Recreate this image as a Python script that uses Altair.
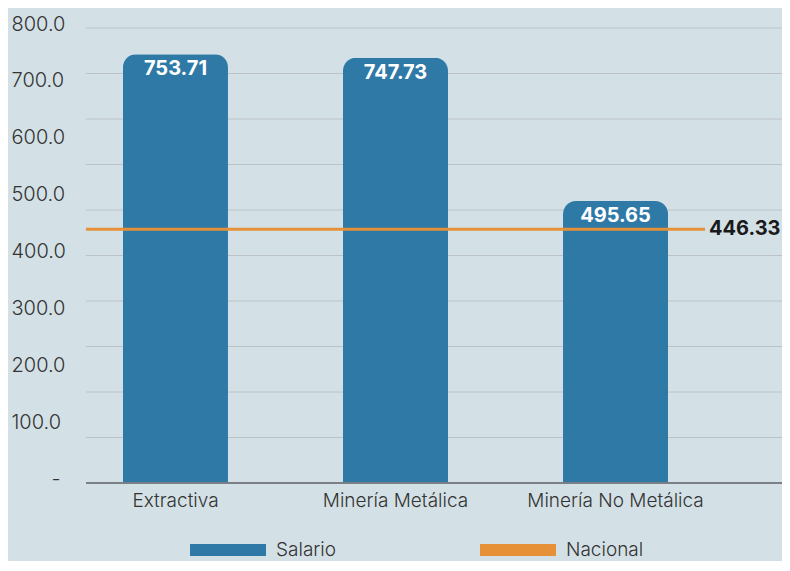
import altair as alt
import pandas as pd

categorias = ["Extractiva", "Minería Metálica", "Minería No Metálica"]
salarios = [753.71, 747.73, 495.65]
nacional_valor = 446.33
y_ticks = [0, 100, 200, 300, 400, 500, 600, 700, 800]
grid_vals = [80, 160, 240, 320, 400, 480, 560, 640, 720, 800]

BG = "#d3e1e6"
BLUE = "#2e79a6"
ORANGE = "#e69138"
FONT = "Inter"

bars_df = pd.DataFrame({"categoria": categorias, "valor": salarios, "serie": ["Salario"] * 3})
nac_df = pd.DataFrame({"serie": ["Nacional"], "valor": [nacional_valor]})
grid_df = pd.DataFrame({"g": grid_vals})

W, H = 696, 455

yscale = alt.Scale(domain=[0, 800], nice=False)
xscale = alt.Scale(domain=categorias, range=[0, 619], paddingInner=0.5227, paddingOuter=0.168)
color_scale = alt.Scale(domain=["Salario", "Nacional"], range=[BLUE, ORANGE])

yaxis = alt.Axis(
    values=y_ticks, grid=False, ticks=False, domain=False,
    labelExpr="datum.value == 0 ? '-' : format(datum.value, '.1f')",
    labelAlign="left",
    labelPadding={"condition": {"test": "datum.value == 0", "value": 35}, "value": 75},
    labelOffset=-4,
    labelFontSize=20, labelFontWeight=300, labelColor="#333333", labelFont=FONT, title=None,
)

grid = alt.Chart(grid_df).mark_rule(color="#bcc2c8", strokeWidth=1).encode(
    y=alt.Y("g:Q", scale=yscale, axis=yaxis)
)

bars = alt.Chart(bars_df).mark_bar(
    cornerRadiusTopLeft=13, cornerRadiusTopRight=13
).encode(
    x=alt.X("categoria:N", scale=xscale, sort=categorias,
            axis=alt.Axis(title=None, domain=False, ticks=False, labelAngle=0,
                          labelFontSize=19, labelFontWeight=300, labelColor="#333333",
                          labelFont=FONT, labelPadding=8)),
    y=alt.Y("valor:Q", scale=yscale),
    color=alt.Color("serie:N", scale=color_scale, legend=alt.Legend(
        title=None, orient="none", legendX=104, legendY=484, direction="horizontal",
        symbolType="M-1,-0.16L1,-0.16L1,0.16L-1,0.16Z", symbolSize=5776,
        symbolStrokeWidth=0, labelFontSize=19, labelFontWeight=300, labelFont=FONT,
        labelColor="#333333", labelOffset=10, columnPadding=143, padding=0, columns=2,
    )),
)

base_rule = alt.Chart(bars_df).mark_rule(color="#7a7f84", strokeWidth=1.5).encode(
    y=alt.datum(0)
)

nac_line = alt.Chart(nac_df).mark_rule(strokeWidth=3).encode(
    y=alt.Y("valor:Q", scale=yscale),
    x=alt.value(0), x2=alt.value(619),
    color=alt.Color("serie:N", scale=color_scale),
)

nac_text = alt.Chart(nac_df).mark_text(
    align="left", baseline="middle", fontSize=20, fontWeight="bold",
    font=FONT, color="#1a1a1a"
).encode(
    y=alt.Y("valor:Q", scale=yscale),
    x=alt.value(623),
    text=alt.Text("valor:Q", format=".2f"),
)

bar_text = alt.Chart(bars_df).mark_text(
    baseline="middle", fontSize=20, fontWeight="bold", font=FONT, color="white", dy=15
).encode(
    x=alt.X("categoria:N", scale=xscale, sort=categorias),
    y=alt.Y("valor:Q", scale=yscale),
    text=alt.Text("valor:Q", format=".2f"),
)

chart = alt.layer(grid, bars, base_rule, nac_line, nac_text, bar_text).properties(
    width=W, height=H,
    autosize=alt.AutoSizeParams(type="none"),
    padding={"left": 78, "top": 20, "right": 0, "bottom": 78},
    background=BG,
).configure_view(stroke=None)

chart.save("out.html", embed_options={"renderer": "svg", "actions": False})
